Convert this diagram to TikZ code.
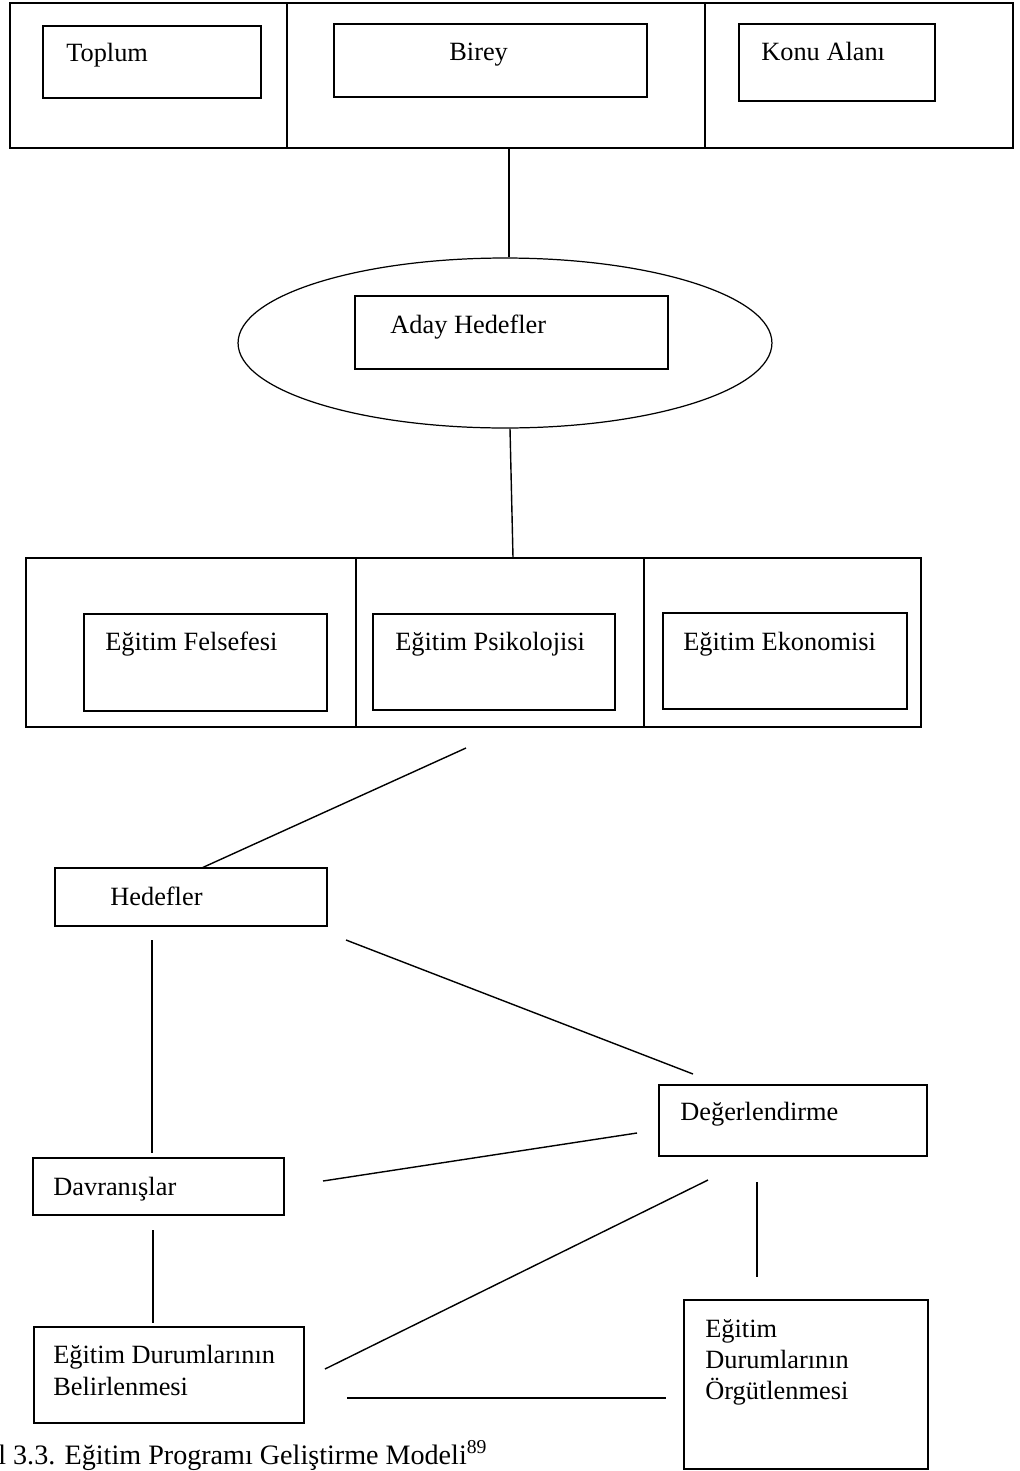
\documentclass[tikz,border=0pt]{standalone}
\usepackage{fontspec}
\setmainfont{Liberation Serif}
\usetikzlibrary{fit,shapes.geometric}
\tikzset{
  kutu/.style={draw, inner sep=0pt, line width=0.7pt},
  yazi/.style={anchor=base west, inner sep=0pt, font=\fontsize{15}{18}\selectfont},
  cizgi/.style={line width=0.8pt}
}
\begin{document}
\begin{tikzpicture}[x=0.02cm,y=-0.02cm]
\useasboundingbox (0,0) rectangle (1020,1471);
\clip (0,0) rectangle (1020,1471);

\node[kutu, fit={(10,3) (1013,148)}] (kaynak) {};
\foreach \x in {287,705}{
\draw[kutu] (\x,3)--(\x,148);
}
\node[kutu, fit={(43,26) (261,98)}] (toplum) {};
\node[kutu, fit={(334,24) (647,97)}] (birey) {};
\node[kutu, fit={(739,24) (935,101)}] (konu) {};
\node[yazi] (toplum-y) at (66,61) {Toplum};
\node[yazi] (birey-y) at (449,60) {Birey};
\node[yazi] (konu-y) at (761,60) {Konu Alanı};

\node[kutu, ellipse, minimum width=10.68cm, minimum height=3.4cm] (adayelips) at (505,343) {};
\node[kutu, fit={(355,296) (668,369)}] (aday) {};
\node[yazi] (aday-y) at (390,333) {Aday Hedefler};

\node[kutu, fit={(26,558) (921,727)}] (temel) {};
\foreach \x in {356,644}{
\draw[kutu] (\x,558)--(\x,727);
}
\node[kutu, fit={(84,614) (327,711)}] (felsefe) {};
\node[kutu, fit={(373,614) (615,710)}] (psikoloji) {};
\node[kutu, fit={(663,613) (907,709)}] (ekonomi) {};
\node[yazi] (felsefe-y) at (105,650) {Eğitim Felsefesi};
\node[yazi] (psikoloji-y) at (395,650) {Eğitim Psikolojisi};
\node[yazi] (ekonomi-y) at (683,650) {Eğitim Ekonomisi};

\node[kutu, fit={(55,868) (327,926)}] (hedefler) {};
\node[yazi] (hedefler-y) at (110,905) {Hedefler};
\node[kutu, fit={(659,1085) (927,1156)}] (deger) {};
\node[yazi] (deger-y) at (680,1120) {Değerlendirme};
\node[kutu, fit={(33,1158) (284,1215)}] (davranis) {};
\node[yazi] (davranis-y) at (53,1195) {Davranışlar};
\node[kutu, fit={(34,1327) (304,1423)}] (belirleme) {};
\node[yazi] (belirleme-y1) at (53,1363) {Eğitim Durumlarının};
\node[yazi] (belirleme-y2) at (53,1395) {Belirlenmesi};
\node[kutu, fit={(684,1300) (928,1469)}] (orgut) {};
\node[yazi] (orgut-y1) at (705,1337) {Eğitim};
\node[yazi] (orgut-y2) at (705,1368) {Durumlarının};
\node[yazi] (orgut-y3) at (705,1399) {Örgütlenmesi};

\node[anchor=base west, inner sep=0pt, font=\fontsize{16}{19}\selectfont] (baslik) at (-52,1464)
  {Şekil 3.3. Eğitim Programı Geliştirme Modeli\textsuperscript{89}};

\coordinate (temel-alt) at (466,748);
\coordinate (hed-alt1) at (152,940);
\coordinate (hed-alt2) at (346,940);
\coordinate (dav-ust) at (152,1153);
\coordinate (dav-sag) at (323,1181);
\coordinate (dav-alt) at (153,1230);
\coordinate (bel-ust) at (153,1323);
\coordinate (bel-sag1) at (325,1369);
\coordinate (bel-sag2) at (347,1398);
\coordinate (deg-ust) at (693,1074);
\coordinate (deg-sol) at (637,1133);
\coordinate (deg-alt1) at (708,1180);
\coordinate (deg-alt2) at (757,1182);
\coordinate (org-ust) at (757,1277);
\coordinate (org-sol) at (666,1398);

\draw[cizgi] (kaynak.south -| 509,0) -- (adayelips.north -| 509,0);
\draw[cizgi] (adayelips.south -| 510,0) -- (temel.north -| 513,0);
\draw[cizgi] (temel-alt) -- (hedefler.north -| 203,0);
\draw[cizgi] (hed-alt1) -- (dav-ust);
\draw[cizgi] (hed-alt2) -- (deg-ust);
\draw[cizgi] (deg-sol) -- (dav-sag);
\draw[cizgi] (dav-alt) -- (bel-ust);
\draw[cizgi] (deg-alt1) -- (bel-sag1);
\draw[cizgi] (deg-alt2) -- (org-ust);
\draw[cizgi] (bel-sag2) -- (org-sol);
\end{tikzpicture}
\end{document}
